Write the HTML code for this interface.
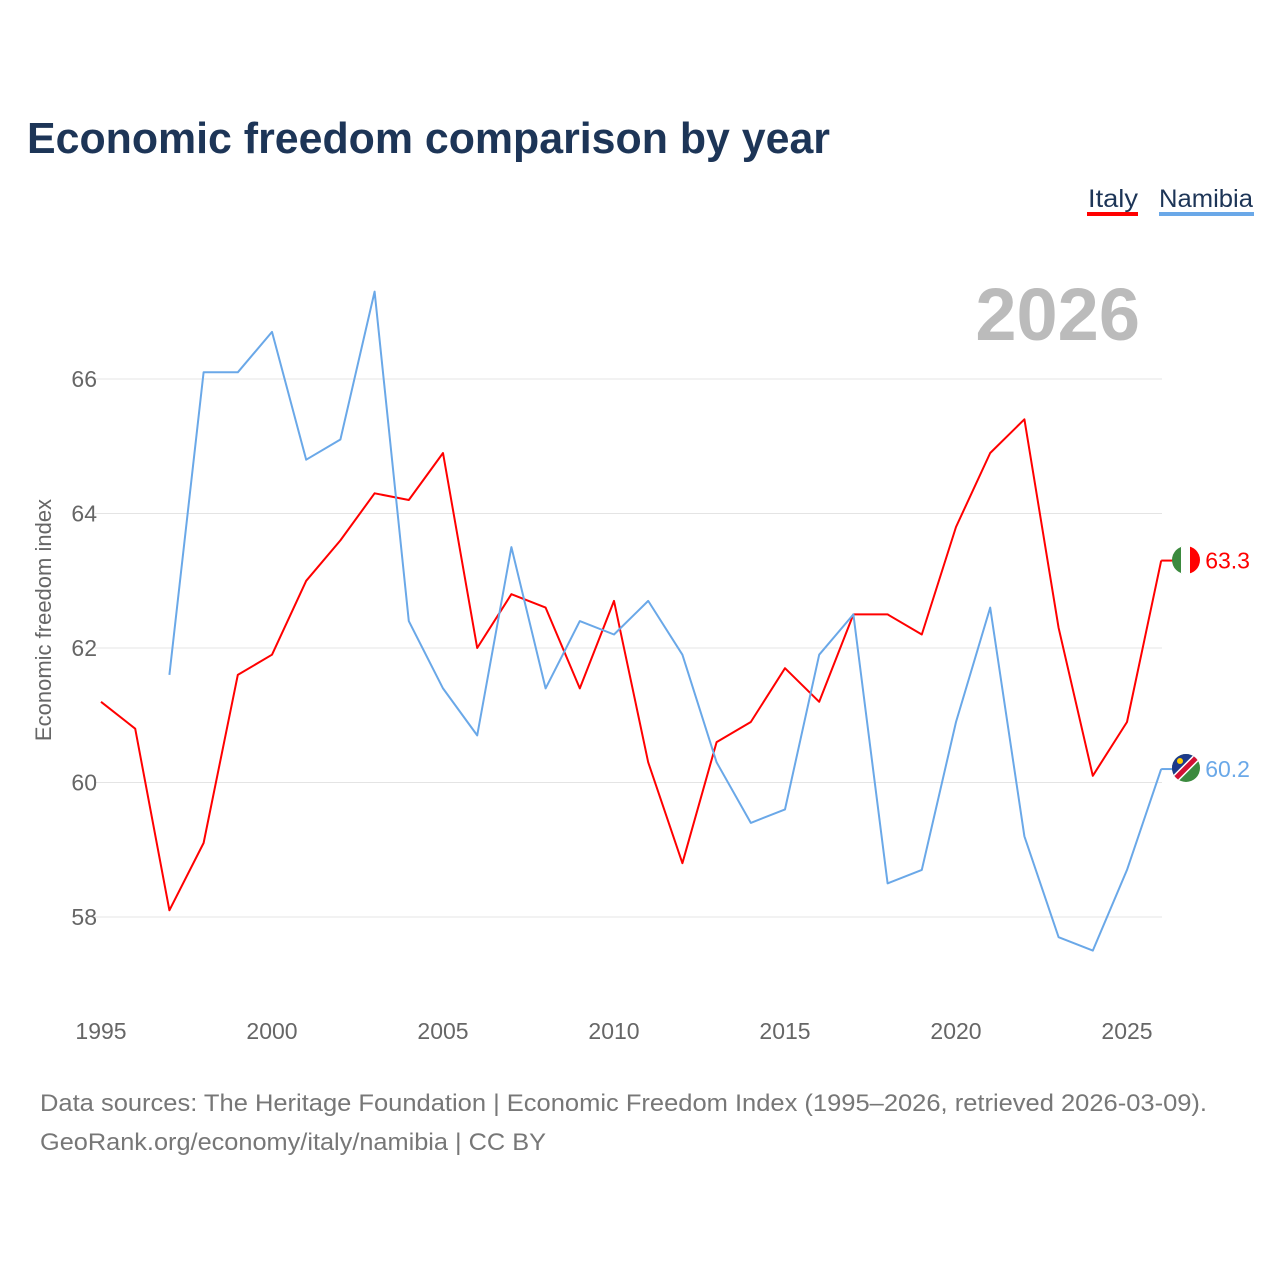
<!DOCTYPE html>
<html><head><meta charset="utf-8"><style>
body{margin:0;background:#fff;width:1280px;height:1280px;overflow:hidden;font-family:"Liberation Sans",sans-serif}
</style></head><body>
<svg width="1280" height="1280" id="chart" style="position:absolute;left:0;top:0">
<defs>
<clipPath id="c1"><circle cx="1186" cy="560" r="14"/></clipPath>
<clipPath id="c2"><circle cx="1186" cy="768" r="14"/></clipPath>
</defs>
<text x="27" y="153" font-size="44" font-weight="bold" fill="#1d3557" textLength="803" lengthAdjust="spacingAndGlyphs">Economic freedom comparison by year</text>
<g><text x="1088" y="207" font-size="25" fill="#1d3557" textLength="50" lengthAdjust="spacingAndGlyphs">Italy</text><rect x="1087" y="212" width="51" height="4" fill="#ff0000"/></g>
<g><text x="1159" y="207" font-size="25" fill="#1d3557" textLength="94" lengthAdjust="spacingAndGlyphs">Namibia</text><rect x="1159" y="212" width="95" height="4" fill="#6aa8e8"/></g>
<text x="1140" y="340" text-anchor="end" font-size="74" font-weight="bold" fill="#bbbbbb">2026</text>
<text transform="translate(51,620) rotate(-90)" text-anchor="middle" font-size="22" fill="#666">Economic freedom index</text>
<g id="grid"></g><g id="series"></g>
<g clip-path="url(#c1)"><rect x="1172" y="546" width="10" height="28" fill="#3b8a3e"/><rect x="1181" y="546" width="10" height="28" fill="#fff"/><rect x="1190" y="546" width="10" height="28" fill="#ff0000"/></g>
<g clip-path="url(#c2)"><rect x="1172" y="754" width="28" height="28" fill="#3b8a3e"/><polygon points="1172,754 1200,754 1172,782" fill="#1d3a8a"/><line x1="1200" y1="754" x2="1172" y2="782" stroke="#fff" stroke-width="8"/><line x1="1200" y1="754" x2="1172" y2="782" stroke="#d21034" stroke-width="5"/><circle cx="1180" cy="761" r="3" fill="#ffce00"/></g>
<text x="40" y="1111" font-size="24" fill="#777" textLength="1167" lengthAdjust="spacingAndGlyphs">Data sources: The Heritage Foundation | Economic Freedom Index (1995–2026, retrieved 2026-03-09).</text>
<text x="40" y="1150" font-size="24" fill="#777" textLength="506" lengthAdjust="spacingAndGlyphs">GeoRank.org/economy/italy/namibia | CC BY</text>
</svg>
<script>
const years=[1995,1996,1997,1998,1999,2000,2001,2002,2003,2004,2005,2006,2007,2008,2009,2010,2011,2012,2013,2014,2015,2016,2017,2018,2019,2020,2021,2022,2023,2024,2025,2026];
const italy=[61.2,60.8,58.1,59.1,61.6,61.9,63.0,63.6,64.3,64.2,64.9,62.0,62.8,62.6,61.4,62.7,60.3,58.8,60.6,60.9,61.7,61.2,62.5,62.5,62.2,63.8,64.9,65.4,62.3,60.1,60.9,63.3];
const namibia=[null,null,61.6,66.1,66.1,66.7,64.8,65.1,67.3,62.4,61.4,60.7,63.5,61.4,62.4,62.2,62.7,61.9,60.3,59.4,59.6,61.9,62.5,58.5,58.7,60.9,62.6,59.2,57.7,57.5,58.7,60.2];
const yTicks=[58,60,62,64,66];
const xTicks=[1995,2000,2005,2010,2015,2020,2025];
const NS="http://www.w3.org/2000/svg";
const X=y=>101+(y-1995)*34.2;
const Y=v=>917-(v-58)*67.25;
const g=document.getElementById('grid'),s=document.getElementById('series');
function mk(t,a,p){const e=document.createElementNS(NS,t);for(const k in a)e.setAttribute(k,a[k]);p.appendChild(e);return e;}
yTicks.forEach(v=>{
 const l=mk('line',{x1:95,x2:1162,y1:Y(v),y2:Y(v),stroke:'#e4e4e4','stroke-width':1},g);
 
 
 const t=mk('text',{x:97,y:Y(v)+8,'text-anchor':'end','font-size':23,fill:'#666'},g);t.textContent=v;
 
 
});
xTicks.forEach(v=>{
 const t=mk('text',{x:X(v),y:1039,'text-anchor':'middle','font-size':23,fill:'#666'},g);t.textContent=v;
 
 
});
function line(vals,col,name){
 let d='';vals.forEach((v,i)=>{if(v==null)return;d+=(d?'L':'M')+X(years[i]).toFixed(1)+','+Y(v).toFixed(1);});
 const p=mk('path',{d:d,fill:'none',stroke:col,'stroke-width':2,'stroke-linejoin':'round'},s);
 
 
 const last=vals[vals.length-1],ly=Y(last),lx=X(years[years.length-1]);
 mk('line',{x1:lx,x2:lx+12,y1:ly,y2:ly,stroke:col,'stroke-width':2},s);
 const t=mk('text',{x:lx+44,y:ly+8,'font-size':23,fill:col},s);t.textContent=last.toFixed(1);
 
 
}
line(italy,'#ff0000','italy');
line(namibia,'#6aa8e8','namibia');
</script>
</body></html>
